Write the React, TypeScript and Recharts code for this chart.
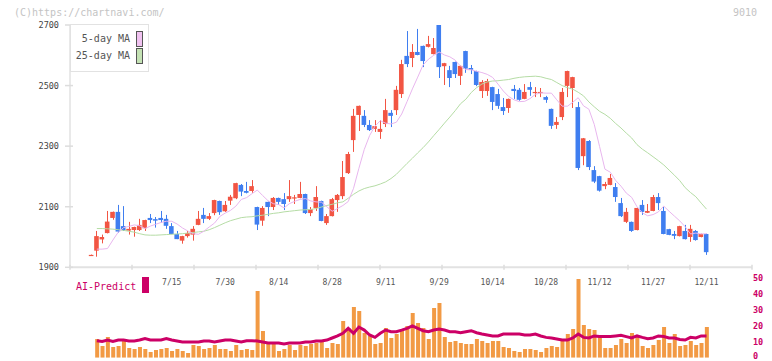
import React from 'react';
import { ComposedChart, Bar, Line, XAxis, YAxis } from 'recharts';

const dates = [
  '6/24','6/25','6/26','6/27','6/30','7/1','7/2','7/3','7/4','7/7','7/8','7/9','7/10','7/11','7/14','7/15',
  '7/16','7/17','7/18','7/22','7/23','7/24','7/25','7/28','7/29','7/30',
  '7/31','8/1','8/4','8/5','8/6','8/7','8/8','8/12','8/13','8/14',
  '8/15','8/18','8/19','8/20','8/21','8/22','8/25','8/26','8/27','8/28',
  '8/29','9/1','9/2','9/3','9/4','9/5','9/8','9/9','9/10','9/11',
  '9/12','9/16','9/17','9/18','9/19','9/22','9/24','9/25','9/26','9/29',
  '9/30','10/1','10/2','10/3','10/6','10/7','10/8','10/9','10/10','10/14',
  '10/15','10/16','10/17','10/20','10/21','10/22','10/23','10/24','10/27','10/28',
  '10/29','10/30','10/31','11/4','11/5','11/6','11/7','11/10','11/11','11/12',
  '11/13','11/14','11/17','11/18','11/19','11/20','11/21','11/25','11/26','11/27',
  '11/28','12/1','12/2','12/3','12/4','12/5','12/8','12/9','12/10','12/11'
];

const opens = [
  1940,1955,1992,2013,2063,2083,2036,2021,2023,2023,2029,2063,2059,2063,2060,2036,
  2010,1988,2003,2008,2040,2073,2060,2079,2119,2085,
  2120,2128,2172,2152,2152,2099,2054,2116,2099,2129,
  2125,2125,2129,2129,2142,2079,2096,2119,2046,2069,
  2122,2135,2211,2320,2403,2400,2370,2357,2347,2373,
  2410,2419,2472,2598,2591,2611,2631,2628,2604,2703,
  2564,2551,2578,2532,2614,2558,2548,2482,2482,2495,
  2472,2429,2426,2489,2486,2456,2495,2475,2476,2462,
  2423,2370,2396,2499,2492,2429,2267,2317,2221,2201,
  2168,2172,2165,2112,2050,2050,2023,2106,2080,2086,
  2132,2086,2026,2010,2003,2020,2000,2020,2000,2010
];
const highs = [
  1942,2020,2008,2086,2084,2106,2102,2050,2034,2060,2057,2076,2066,2086,2073,2046,
  2020,2004,2020,2036,2086,2096,2079,2123,2120,2119,
  2139,2179,2175,2182,2188,2100,2102,2117,2132,2130,
  2145,2188,2139,2182,2143,2099,2168,2120,2076,2129,
  2142,2251,2281,2423,2434,2419,2386,2386,2386,2456,
  2419,2499,2585,2680,2637,2687,2632,2664,2657,2704,
  2575,2565,2579,2566,2615,2568,2549,2518,2522,2496,
  2489,2459,2457,2502,2492,2505,2512,2495,2492,2466,
  2424,2396,2492,2549,2529,2446,2327,2320,2234,2202,
  2182,2208,2178,2129,2096,2051,2097,2122,2109,2139,
  2145,2099,2027,2020,2037,2040,2040,2023,2011,2011
];
const lows = [
  1940,1935,1979,2012,2057,2014,2020,2008,2001,2020,2020,2046,2031,2047,2027,2009,
  1993,1978,1998,1988,2039,2046,2056,2072,2073,2083,
  2106,2125,2135,2144,2146,2023,2037,2069,2089,2106,
  2089,2116,2109,2128,2076,2069,2086,2052,2040,2068,
  2083,2125,2208,2281,2350,2363,2350,2347,2324,2363,
  2363,2403,2459,2561,2561,2600,2561,2626,2603,2525,
  2502,2495,2525,2502,2542,2538,2498,2459,2466,2419,
  2423,2403,2410,2456,2450,2455,2466,2462,2462,2443,
  2357,2357,2386,2462,2426,2221,2237,2221,2178,2150,
  2158,2171,2116,2066,2046,2017,2022,2073,2079,2085,
  2089,2009,2006,1993,2002,1992,1984,1988,1999,1941
];
const closes = [
  1941,2003,2000,2051,2083,2018,2023,2027,2033,2040,2056,2056,2054,2056,2037,2010,
  1993,2003,2013,2027,2060,2060,2069,2122,2082,2106,
  2133,2178,2150,2146,2168,2041,2096,2099,2129,2116,
  2109,2135,2131,2142,2079,2092,2132,2053,2069,2125,
  2139,2198,2274,2400,2433,2370,2353,2366,2357,2419,
  2400,2486,2571,2571,2611,2601,2581,2637,2624,2561,
  2574,2525,2538,2565,2556,2552,2502,2512,2515,2446,
  2433,2416,2456,2482,2453,2479,2486,2479,2479,2453,
  2367,2380,2479,2548,2528,2228,2326,2231,2183,2153,
  2175,2195,2132,2069,2083,2020,2096,2083,2086,2132,
  2112,2010,2007,2004,2036,1993,2027,1990,2010,1950
];

const ma5 = [
  null,1960,1960,1962,1990,2016,2031,2035,2040,2037,2028,2036,2042,2048,2052,2052,
  2043,2030,2020,2011,2009,2019,2033,2046,2068,2079,
  2088,2102,2124,2130,2143,2155,2137,2120,2110,2107,
  2096,2110,2118,2124,2127,2119,2116,2115,2100,2085,
  2094,2104,2117,2161,2227,2289,2335,2366,2384,2376,
  2373,2379,2406,2447,2489,2528,2568,2587,2600,2611,
  2601,2595,2584,2564,2553,2552,2547,2543,2537,2527,
  2505,2482,2464,2453,2447,2448,2457,2471,2476,2475,
  2475,2453,2432,2432,2445,2460,2433,2422,2372,2299,
  2224,2214,2187,2168,2145,2131,2100,2080,2070,2074,
  2083,2102,2085,2069,2053,2034,2010,2013,2010,2011
];
const ma25 = [
  null,2028,2028,2027,2026,2024,2022,2019,2016,2011,2007,2006,2006,2007,2008,2009,
  2010,2011,2013,2015,2017,2019,2024,2031,2039,2047,
  2054,2059,2064,2066,2067,2070,2072,2075,2078,2080,
  2083,2085,2087,2089,2090,2091,2094,2099,2104,2108,
  2113,2116,2128,2141,2152,2160,2165,2169,2175,2182,
  2193,2207,2225,2243,2260,2278,2295,2314,2335,2355,
  2376,2396,2417,2440,2455,2477,2493,2505,2512,2515,
  2516,2518,2520,2524,2527,2529,2530,2531,2529,2524,
  2520,2510,2500,2493,2488,2478,2466,2446,2430,2415,
  2405,2392,2375,2360,2343,2327,2305,2290,2278,2265,
  2252,2238,2221,2204,2186,2163,2147,2133,2112,2092
];

const volumes = [
  null,11.8,7.4,13.0,6.7,7.4,10.5,6.1,5.5,6.7,5.5,3.6,4.8,5.5,6.1,4.2,
  5.5,4.2,3.0,8.0,7.4,5.5,6.1,8.0,5.5,5.5,
  4.2,8.0,4.8,5.5,4.8,42.0,16.8,9.9,8.6,4.2,
  5.5,8.0,4.8,8.0,7.4,8.6,9.2,9.9,6.1,9.2,
  8.6,23.1,18.7,31.9,29.4,15.6,13.7,8.6,9.2,18.7,
  12.4,14.9,17.4,19.9,28.1,21.8,18.7,11.8,31.3,34.4,
  13.0,9.9,10.5,9.3,8.6,8.6,11.8,10.5,9.3,10.5,
  10.5,6.7,6.1,4.2,3.6,5.5,5.5,4.8,3.6,6.1,
  7.4,6.7,11.1,14.9,18.1,49.6,20.6,18.1,17.4,13.7,
  6.1,6.1,8.0,11.8,9.3,15.6,13.0,7.4,6.1,8.0,
  11.1,19.3,9.3,14.9,7.4,8.0,10.5,8.0,9.3,19.3
];
const aiPredict = [
  null,10.7,10.2,11.1,10.2,11.1,11.1,10.5,10.5,11.1,12.0,11.1,11.1,11.1,12.0,11.1,
  10.5,9.9,9.9,9.9,9.9,10.5,10.5,9.9,10.5,11.1,
  11.1,10.5,9.9,10.7,10.7,10.5,9.9,9.3,9.3,9.3,
  8.6,9.3,9.3,9.3,9.9,9.9,10.5,10.5,11.1,12.4,
  13.7,15.4,18.5,15.4,19.3,17.4,14.3,12.8,15.4,17.4,
  16.4,16.4,17.4,18.5,20.0,18.5,17.0,16.4,17.4,18.0,
  17.4,16.4,16.4,15.7,16.4,17.0,15.7,14.9,14.3,13.7,
  13.7,14.9,14.9,14.9,14.9,14.3,14.3,14.9,13.7,12.8,
  12.4,11.8,11.1,11.1,12.4,14.9,12.8,12.4,13.7,13.3,
  13.3,13.3,13.7,14.1,13.3,12.4,13.7,12.8,12.0,12.4,
  13.7,13.3,12.4,12.4,11.5,11.1,12.8,12.4,13.7,13.7
];

const tickLabels = ['7/15','7/30','8/14','8/28','9/11','9/29','10/14','10/28','11/12','11/27','12/11'];
const priceTicks = [1900, 2100, 2300, 2500, 2700];
const volumeTicks = [0, 10, 20, 30, 40, 50];
const legendItems = [
  { label: '5-day MA', color: '#f0c2f0' },
  { label: '25-day MA', color: '#c4e2b4' },
];

const RED = '#f25543';
const BLUE = '#3f7ef0';
const FONT = '"DejaVu Sans Mono", monospace';
const X_MIN = -4.02;
const X_MAX = 123.5;

const data = dates.map((d, i) => ({
  i,
  date: d,
  open: opens[i],
  high: highs[i],
  low: lows[i],
  close: closes[i],
  range: [lows[i], highs[i]],
  ma5: ma5[i],
  ma25: ma25[i],
  vol: volumes[i],
  ai: aiPredict[i],
}));

const labelTicks = tickLabels.map((t) => dates.indexOf(t));
const gridTicks = Array.from({ length: 12 }, (_, k) => X_MIN + (k * (X_MAX - X_MIN)) / 11);
const allTicks = [...gridTicks, ...labelTicks];

const Candle = (props: any) => {
  const { x, y, width, height, payload } = props;
  if (!payload) return null;
  const { open, close, high, low } = payload;
  const top = Math.min(y, y + height);
  const h = Math.abs(height);
  const k = h / (high - low);
  const yOf = (v: number) => top + (high - v) * k;
  const up = close >= open;
  const color = up ? RED : BLUE;
  const bTop = yOf(Math.max(open, close));
  const bBot = yOf(Math.min(open, close));
  const cx = Math.round(x + width / 2) + 0.5;
  return (
    <g>
      <line x1={cx} x2={cx} y1={top} y2={top + h} stroke={color} strokeWidth={1} />
      <rect x={x} y={bTop} width={width} height={Math.max(bBot - bTop, 1.2)} fill={color} />
    </g>
  );
};

const XTick = (props: any) => {
  const { x, y, payload } = props;
  const v = payload.value;
  const li = labelTicks.indexOf(v);
  if (li >= 0) {
    return (
      <text x={x} y={y + 17.5} textAnchor="middle" fontSize={8} fill="#555" fontFamily={FONT}>
        {tickLabels[li]}
      </text>
    );
  }
  return <line x1={x} x2={x} y1={y - 2.5} y2={y + 2.5} stroke="#dddddd" strokeWidth={1.5} />;
};

const YTick = (props: any) => {
  const { x, y, payload } = props;
  return (
    <g>
      <line x1={x - 5} x2={x + 3} y1={y} y2={y} stroke="#dddddd" strokeWidth={1.5} />
      <text x={x - 11} y={y + 3} textAnchor="end" fontSize={8.5} fill="#444" fontFamily={FONT}>
        {payload.value}
      </text>
    </g>
  );
};

const VTick = (props: any) => {
  const { x, y, payload } = props;
  const dy = payload.value === 0 ? 1 : 3;
  return (
    <text x={x} y={y + dy} textAnchor="start" fontSize={8.5} fontWeight="bold" fill="#cc0066" fontFamily={FONT}>
      {payload.value}
    </text>
  );
};

export default function App() {
  return (
    <div style={{ position: 'absolute', left: 0, top: 0, width: 772, height: 361, background: '#fff', overflow: 'hidden' }}>
      <div style={{ position: 'absolute', left: 0, top: 0 }}>
        <ComposedChart width={772} height={300} data={data} margin={{ top: 25, right: 20, left: 0, bottom: 0 }}>
          <XAxis
            xAxisId="x"
            dataKey="i"
            type="number"
            domain={[X_MIN, X_MAX]}
            allowDataOverflow
            ticks={allTicks}
            interval={0}
            tickSize={0}
            tickMargin={0}
            tickLine={false}
            tick={<XTick />}
            axisLine={{ stroke: '#e2e2e2', strokeWidth: 2 }}
            height={32.7}
          />
          <YAxis
            yAxisId="p"
            domain={[1900, 2700]}
            allowDataOverflow
            ticks={priceTicks}
            interval={0}
            width={70}
            tickSize={0}
            tickMargin={0}
            tickLine={false}
            tick={<YTick />}
            axisLine={{ stroke: '#e2e2e2', strokeWidth: 1.5 }}
          />
          <Line xAxisId="x" yAxisId="p" dataKey="ma25" stroke="#b5dca5" strokeWidth={1} dot={false} isAnimationActive={false} />
          <Line xAxisId="x" yAxisId="p" dataKey="ma5" stroke="#e8b6ee" strokeWidth={1} dot={false} isAnimationActive={false} />
          <Bar xAxisId="x" yAxisId="p" dataKey="range" barSize={4.6} shape={<Candle />} isAnimationActive={false} />
        </ComposedChart>
      </div>
      <div style={{ position: 'absolute', left: 0, top: 0 }}>
        <ComposedChart width={772} height={361} data={data} margin={{ top: 278.3, right: 0, left: 70, bottom: 3.3 }}>
          <XAxis xAxisId="x" dataKey="i" type="number" domain={[X_MIN, X_MAX]} allowDataOverflow hide />
          <YAxis
            yAxisId="v"
            orientation="right"
            domain={[0, 50]}
            allowDataOverflow
            ticks={volumeTicks}
            interval={0}
            width={20}
            tickSize={0}
            tickMargin={1}
            axisLine={false}
            tickLine={false}
            tick={<VTick />}
          />
          <Bar xAxisId="x" yAxisId="v" dataKey="vol" fill="#f29a44" barSize={4} isAnimationActive={false} />
          <Line xAxisId="x" yAxisId="v" dataKey="ai" stroke="#cc0066" strokeWidth={3} dot={false} isAnimationActive={false} />
        </ComposedChart>
      </div>
      <div
        style={{
          position: 'absolute',
          left: 70,
          top: 24,
          width: 77,
          height: 46,
          border: '1px solid #e2e2e2',
          background: '#fff',
          fontFamily: FONT,
          fontSize: 10,
          color: '#555',
        }}
      >
        {legendItems.map((it, k) => (
          <div key={k} style={{ position: 'absolute', right: 5, top: 6 + k * 17, display: 'flex', alignItems: 'center' }}>
            <span style={{ marginRight: 6, lineHeight: '16px' }}>{it.label}</span>
            <span style={{ display: 'inline-block', width: 5, height: 14, background: it.color, border: '1px solid #555' }} />
          </div>
        ))}
      </div>
      <svg width={772} height={361} style={{ position: 'absolute', left: 0, top: 0, pointerEvents: 'none' }}>
        <text x={14} y={16} fontSize={10} fill="#c4c4c4" fontFamily={FONT}>(C)https://chartnavi.com/</text>
        <text x={757} y={16} fontSize={10} fill="#c4c4c4" fontFamily={FONT} textAnchor="end">9010</text>
        <text x={76} y={290} fontSize={10} fill="#cc0066" fontFamily={FONT}>AI-Predict</text>
        <rect x={142} y={277} width={7} height={16} fill="#cc0066" />
      </svg>
    </div>
  );
}
